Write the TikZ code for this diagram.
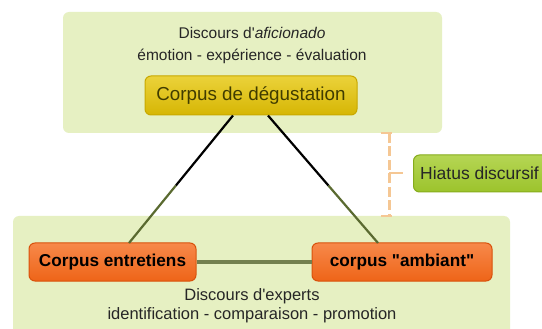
\documentclass[tikz,border=0pt]{standalone}
\usepackage{fontspec}
\setmainfont{Liberation Sans}
\usetikzlibrary{calc}
\definecolor{zonebg}{HTML}{E6F0C2}
\definecolor{goldfill}{HTML}{D6B604}
\definecolor{goldtop}{HTML}{EBD23A}
\definecolor{golddraw}{HTML}{C8A800}
\definecolor{goldtext}{HTML}{403C00}
\definecolor{orfill}{HTML}{EE6418}
\definecolor{ortop}{HTML}{F7894A}
\definecolor{ordraw}{HTML}{D8520C}
\definecolor{hifill}{HTML}{9CC32C}
\definecolor{hitop}{HTML}{B5D654}
\definecolor{hidraw}{HTML}{86AC1C}
\definecolor{linkc}{HTML}{5A6A30}
\definecolor{bracketc}{HTML}{F5C794}
\tikzset{
  zone/.style={fill=zonebg, draw=none, rounded corners=6pt},
  goldbox/.style={rectangle, rounded corners=6pt, draw=golddraw, line width=1pt,
    top color=goldtop, bottom color=goldfill, text=goldtext,
    minimum width=212pt, minimum height=39pt, font=\fontsize{18.8}{22}\selectfont},
  orbox/.style={rectangle, rounded corners=6pt, draw=ordraw, line width=1pt,
    top color=ortop, bottom color=orfill, text=black,
    minimum height=38pt, font=\bfseries\fontsize{17.2}{20}\selectfont},
  hibox/.style={rectangle, rounded corners=6pt, draw=hidraw, line width=1pt,
    top color=hitop, bottom color=hifill, text=black!85,
    minimum height=37pt, font=\fontsize{17.5}{20}\selectfont},
  toplab/.style={font=\fontsize{15.5}{22}\selectfont, align=center, text=black!85},
  botlab/.style={font=\fontsize{16.5}{19}\selectfont, align=center, text=black!85},
  link/.style={line width=2.2pt},
}
\begin{document}
\begin{tikzpicture}[x=1pt,y=-1pt]
\clip (0,0) rectangle (542,329);
\fill[white] (0,0) rectangle (542,329);
% zones
\fill[zone] (63,12) rectangle (442,133);
\fill[zone] (13,216) rectangle (510,340);
% labels
\node[toplab] (toplabel) at (252,45) {Discours d\textquotesingle\textit{aficionado}\\émotion - expérience - évaluation};
\node[botlab] (botlabel) at (252,306) {Discours d\textquotesingle experts\\identification - comparaison - promotion};
% nodes
\node[goldbox] (deg) at (251,95.5) {Corpus de dégustation};
\node[orbox, minimum width=167pt] (ent) at (112.5,262) {Corpus entretiens};
\node[orbox, minimum width=180pt] (amb) at (402,262) {corpus \textquotedbl ambiant\textquotedbl};
\node[hibox, minimum width=160pt, anchor=west] (hia) at (413,173.5) {\hspace*{-28pt}Hiatus discursif};
% connectors
\coordinate (dl) at (233,115.5);
\coordinate (dr) at (268,115.5);
\coordinate (el) at (129,243);
\coordinate (ar) at (378,243);
\draw[link, black] (dl) -- ($(dl)!0.55!(el)$) coordinate (ml);
\draw[link, linkc] (ml) -- (el);
\draw[link, black] (dr) -- ($(dr)!0.55!(ar)$) coordinate (mr);
\draw[link, linkc] (mr) -- (ar);
\draw[line width=3pt, linkc!85] (ent.east) -- (amb.west);
% bracket
\coordinate (bt) at (389,133);
\coordinate (bb) at (389,216);
\coordinate (bm) at (389,173);
\draw[bracketc, line width=3pt, dash pattern=on 10pt off 3.5pt] (bt) -- (bb);
\draw[bracketc, line width=2.5pt] ($(bt)+(-8,0)$) -- ($(bt)+(3,0)$);
\draw[bracketc, line width=2.5pt] ($(bb)+(-8,0)$) -- ($(bb)+(3,0)$);
\draw[bracketc, line width=2.5pt] (bm) -- ($(bm)+(14,0)$) coordinate (bmt);
\end{tikzpicture}
\end{document}
